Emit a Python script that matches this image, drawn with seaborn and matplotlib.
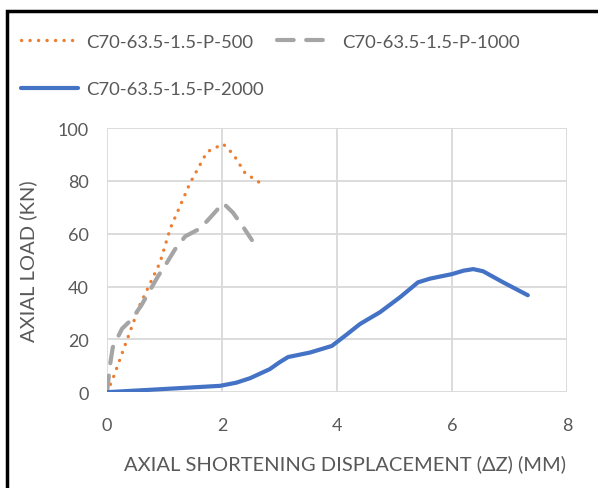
import matplotlib
matplotlib.use("Agg")
import matplotlib.pyplot as plt
import seaborn as sns
from matplotlib.patches import Rectangle

# displacement (mm) / load (kN)
x500 = [0, 0.1, 0.3, 0.57, 0.92, 1.1, 1.3, 1.44, 1.74, 2.02, 2.2, 2.4, 2.68]
y500 = [0, 5, 17, 33, 49, 62, 72, 79, 91, 94, 90, 83, 79]

x1000 = [0, 0.05, 0.1, 0.26, 0.43, 0.6, 0.89, 1.04, 1.18, 1.36, 1.62, 1.79, 2.02, 2.19, 2.37, 2.52]
y1000 = [0, 10, 17, 24, 27.6, 33, 44, 49, 54, 59, 62, 66, 71.6, 68, 62.5, 57.6]

x2000 = [0, 1.0, 1.97, 2.25, 2.49, 2.83, 3.0, 3.15, 3.53, 3.91, 4.15, 4.4, 4.75, 5.1, 5.41, 5.62, 6.0, 6.2, 6.37, 6.54, 6.89, 7.32]
y2000 = [0, 1.2, 2.4, 3.6, 5.3, 8.7, 11.3, 13.3, 15, 17.5, 21.5, 25.8, 30.3, 36, 41.6, 43, 44.7, 46.0, 46.6, 45.8, 41.6, 36.7]

labels = ["C70-63.5-1.5-P-500", "C70-63.5-1.5-P-1000", "C70-63.5-1.5-P-2000"]

sns.set_theme(style="white")
plt.rcParams['font.family'] = ['Lato', 'DejaVu Sans']

fig = plt.figure(figsize=(5.98, 4.89), dpi=100)
ax = fig.add_axes([0.179, 0.196, 0.769, 0.54])

sns.lineplot(x=x500, y=y500, ax=ax, sort=False, color="#ed7d31", lw=2.4,
             label=labels[0])
ax.lines[-1].set_dashes((0.05, 2.5))
ax.lines[-1].set_dash_capstyle("round")
sns.lineplot(x=x1000, y=y1000, ax=ax, sort=False, color="#a5a5a5", lw=3,
             label=labels[1])
ax.lines[-1].set_dashes((4, 3))
ax.lines[-1].set_dash_capstyle("round")
sns.lineplot(x=x2000, y=y2000, ax=ax, sort=False, color="#4472c4", lw=3,
             label=labels[2])
ax.lines[-1].set_solid_capstyle("round")
ax.lines[-1].set_solid_joinstyle("round")

ax.set_xlim(0, 8)
ax.set_ylim(0, 100)
ax.set_xticks([0, 2, 4, 6, 8])
ax.set_yticks([0, 20, 40, 60, 80, 100])
ax.grid(True, color="#d9d9d9", lw=1.3)
for s in ax.spines.values():
    s.set_visible(False)
ax.tick_params(colors="#595959", labelsize=13, length=0)
ax.tick_params(axis="x", pad=18)
ax.tick_params(axis="y", pad=13)
ax.set_xlabel("AXIAL SHORTENING DISPLACEMENT (ΔZ) (MM)", color="#595959",
              fontsize=14.5)
ax.xaxis.set_label_coords(0.518, -0.237)
ax.set_ylabel("AXIAL LOAD (KN)", color="#595959", fontsize=14.5)
ax.yaxis.set_label_coords(-0.151, 0.5)

h, l = ax.get_legend_handles_labels()
order = [0, 2, 1]
leg = ax.legend([h[i] for i in order], [l[i] for i in order],
                loc="upper left", bbox_to_anchor=(-0.223, 1.42), ncol=2,
                frameon=False, fontsize=13.3, handlelength=3.1,
                handletextpad=0.4, columnspacing=0.75, labelspacing=1.7)
for t in leg.get_texts():
    t.set_color("#595959")

fig.patches.append(Rectangle((0.011, -0.1), 1.2, 1.076, transform=fig.transFigure,
                             fill=False, ec="black", lw=2.5))

fig.savefig("out.png", dpi=100)
